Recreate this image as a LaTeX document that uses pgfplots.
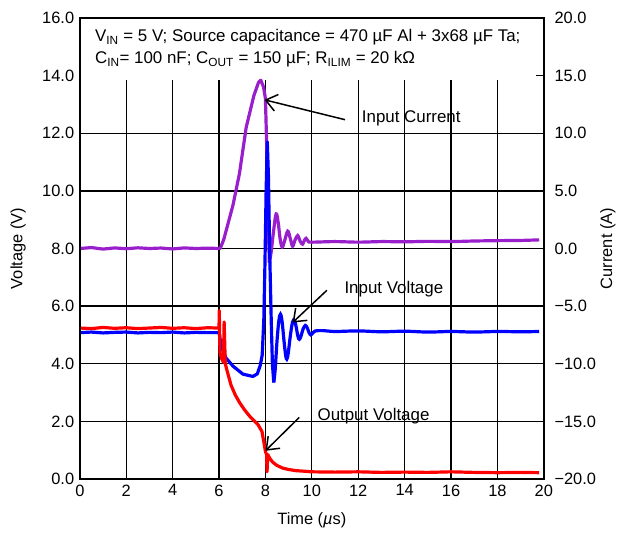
\documentclass[border=0pt]{standalone}
\usepackage{fontspec}
\setmainfont{Liberation Sans}
\usepackage{pgfplots}
\pgfplotsset{compat=1.18}
\usetikzlibrary{arrows.meta}
\definecolor{icur}{RGB}{153,30,204}

\pgfplotsset{
  scopebase/.style={
    scale only axis, width=465bp, height=462bp,
    xmin=0, xmax=20, xtick={0,2,...,20},
    clip=false,
    axis line style={line width=2.4bp},
    tick style={draw=none},
    /pgf/number format/assume math mode=true,
    tick label style={font=\fontsize{16.5}{19}\selectfont},
    label style={font=\fontsize{16.5}{19}\selectfont},
  }
}

\begin{document}
\fontsize{16.5}{19}\selectfont
\begin{tikzpicture}
% current axis (right) -- carries the grid and the input current
\begin{axis}[scopebase,
  ymin=-20, ymax=20, ytick={-20,-15,...,20},
  yticklabels={−20.0,−15.0,−10.0,−5.0,0.0,5.0,10.0,15.0,20.0},
  yticklabel pos=right, xticklabels={},
  y tick label style={xshift=5bp},
  grid=major, grid style={black, line width=1.3bp},
  ylabel={Current (A)},
  every axis y label/.style={at={(axis description cs:1.138,0.5)}, rotate=90, anchor=center},
]
\fill[white] (axis cs:0,14.6) rectangle (axis cs:20,20);
\addplot[icur, line width=3.2bp, line join=round] coordinates {
(0,0.0) (0.5,0.08) (1,-0.05) (1.5,0.05) (2,-0.02) (2.5,0.06) (3,0.0) (3.5,0.04)
(4,-0.04) (4.5,0.05) (5,0.0) (5.5,0.03) (6.05,0.0) (6.2,0.75) (6.4,2.25)
(6.6,3.75) (6.88,6.5) (7.17,10.5) (7.5,13.25) (7.7,14.4) (7.8,14.6) (7.92,14.0)
(8.0,13.0) (8.05,9.25) (8.1,3.75) (8.17,-1.25)};
\addplot[icur, line width=3.2bp, smooth, tension=0.6] coordinates {
(8.17,-1.25) (8.25,-0.25) (8.35,1.5) (8.46,3.0)
(8.55,2.25) (8.63,0.88) (8.72,0.12) (8.82,0.62) (8.96,1.5) (9.07,0.88) (9.17,0.2)
(9.28,0.75) (9.39,1.12) (9.5,0.62) (9.6,0.38) (9.68,0.7) (9.75,0.88) (9.85,0.62)
(10,0.55) (11,0.6) (12,0.55) (13,0.6) (14,0.58) (15,0.62) (16,0.6) (17,0.65)
(18,0.68) (19,0.7) (19.8,0.75)};
\end{axis}
% voltage axis (left)
\begin{axis}[scopebase,
  ymin=0, ymax=16, ytick={0,2,...,16},
  yticklabel pos=left,
  y tick label style={/pgf/number format/.cd, fixed, fixed zerofill, precision=1},
  xlabel={Time (\textit{µ}s)}, ylabel={Voltage (V)},
  every axis x label/.style={at={(axis description cs:0.5,-0.090)}, anchor=center},
  every axis y label/.style={at={(axis description cs:-0.133,0.5)}, rotate=90, anchor=center},
]
\addplot[blue, line width=3.2bp, line join=round] coordinates {
(0,5.08) (0.5,5.1) (1,5.07) (1.5,5.09) (2,5.1) (2.5,5.07) (3,5.09) (3.5,5.08)
(4,5.1) (4.5,5.07) (5,5.09) (5.5,5.08) (6.0,5.08) (6.1,4.6) (6.17,4.45) (6.3,4.2)
(6.6,3.92) (7.03,3.64) (7.46,3.56) (7.65,3.65) (7.78,3.95) (7.86,4.3) (7.93,5.5)
(7.98,7.5) (8.03,10) (8.08,11.7) (8.13,10.5) (8.18,8) (8.25,5.5) (8.3,4.0)
(8.36,3.35)};
\addplot[blue, line width=3.2bp, smooth, tension=0.6] coordinates {
(8.36,3.35) (8.42,3.8) (8.5,4.8) (8.58,5.5) (8.65,5.72) (8.72,5.45) (8.8,4.8)
(8.87,4.3) (8.92,4.16) (8.98,4.35) (9.07,4.95) (9.17,5.45) (9.25,5.5) (9.32,5.3)
(9.4,4.95) (9.46,4.85) (9.53,4.95) (9.62,5.2) (9.72,5.33) (9.8,5.25) (9.88,5.08)
(9.96,5.0) (10.05,5.08) (10.15,5.14) (10.5,5.15) (11,5.12) (12,5.14) (13,5.11)
(14,5.13) (15,5.1) (16,5.12) (17,5.1) (18,5.12) (19,5.11) (19.8,5.12)};
\addplot[red, line width=3.2bp, line join=round] coordinates {
(0,5.24) (0.5,5.22) (1,5.26) (1.5,5.23) (2,5.25) (2.5,5.22) (3,5.24) (3.5,5.26)
(4,5.23) (4.5,5.25) (5,5.22) (5.5,5.25) (5.95,5.24) (6.0,5.25) (6.01,5.85)
(6.04,4.4) (6.10,4.2) (6.19,4.05) (6.22,5.45) (6.27,4.0) (6.35,3.75) (6.52,3.25)
(6.7,2.92) (6.88,2.66) (7.1,2.4) (7.31,2.19) (7.5,2.03) (7.67,1.9) (7.85,1.65)
(7.95,1.2) (8.0,0.95) (8.05,0.85) (8.07,0.25) (8.1,0.85) (8.2,0.7) (8.32,0.58)
(8.5,0.47) (8.74,0.38) (9.0,0.33) (9.32,0.29) (9.7,0.27) (10,0.25) (11,0.24)
(12,0.25) (13,0.23) (14,0.24) (15,0.23) (16,0.25) (17,0.23) (18,0.22) (19,0.23)
(19.8,0.22)};
% header
\node[anchor=base west, inner sep=0, font=\fontsize{17}{20}\selectfont] at (axis cs:0.65,15.17)
  {V\textsubscript{IN} = 5 V; Source capacitance = 470 µF Al + 3x68 µF Ta;};
\node[anchor=base west, inner sep=0, font=\fontsize{17}{20}\selectfont] at (axis cs:0.65,14.42)
  {C\textsubscript{IN}= 100 nF; C\textsubscript{OUT} = 150 µF; R\textsubscript{ILIM} = 20 kΩ};
% annotations
\tikzset{ann/.style={draw=black, line width=1.5bp, -{Straight Barb[length=11bp, width=17bp]}}}
\draw[ann] (axis cs:11.43,12.47) -- (axis cs:7.96,13.16);
\draw[ann] (axis cs:10.65,6.55) -- (axis cs:9.17,5.43);
\draw[ann] (axis cs:9.46,2.14) -- (axis cs:8.0,0.98);
\node[anchor=west, inner sep=0, font=\fontsize{17}{20}\selectfont] at (axis cs:12.15,12.53) {Input Current};
\node[anchor=west, inner sep=0, font=\fontsize{17}{20}\selectfont] at (axis cs:11.4,6.58) {Input Voltage};
\node[anchor=west, inner sep=0, font=\fontsize{17}{20}\selectfont] at (axis cs:10.24,2.18) {Output Voltage};
% frame and the tick left visible in the header box
\draw[line width=2.4bp] (rel axis cs:0,0) rectangle (rel axis cs:1,1);
\draw[line width=1.5bp] (axis cs:20,14) -- ++(-8bp,0);
% page margins as in the reference
\path (rel axis cs:-0.172,-0.110) rectangle (rel axis cs:1.163,1.039);
\end{axis}
\end{tikzpicture}
\end{document}
